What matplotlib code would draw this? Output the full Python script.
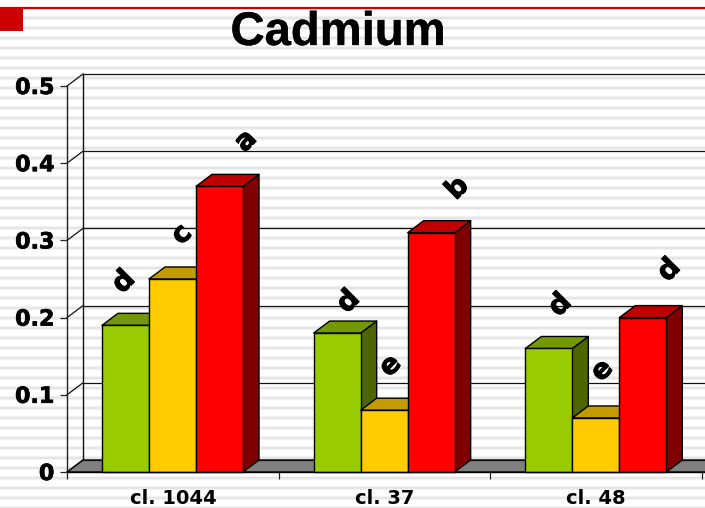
import matplotlib
matplotlib.use('Agg')
import matplotlib.pyplot as plt
from matplotlib.patches import Polygon, Rectangle
import matplotlib.patheffects as pe
import numpy as np

# Data
categories = ['cl. 1044', 'cl. 37', 'cl. 48']
green = [0.19, 0.18, 0.16]
yellow = [0.25, 0.08, 0.07]
red = [0.37, 0.31, 0.20]
green_letters = ['d', 'd', 'd']
yellow_letters = ['c', 'e', 'e']
red_letters = ['a', 'b', 'd']
y_ticks = [0, 0.1, 0.2, 0.3, 0.4, 0.5]
y_tick_labels = ['0', '0.1', '0.2', '0.3', '0.4', '0.5']

W, H = 705, 508
# Front plane of the 3D box, in pixels
LEFT, RIGHT, BOTTOM, TOP = 67, 702, 472, 86
DX_PX, DY_PX = 16, 12
# Letters were hand placed on the slide, so nudge each one (pixels, series then group)
LETTER_NUDGE = [
    [(-10, 5), (3, -7), (3, 5)],
    [(1, 6), (-2, 6), (-2, 9)],
    [(18, 7), (18, 6), (18, 9)],
]

fig = plt.figure(figsize=(W / 100, H / 100), dpi=100, facecolor='white')

# Striped slide background
bg = fig.add_axes([0, 0, 1, 1], zorder=0)
bg.set_xlim(0, W)
bg.set_ylim(H, 0)
bg.axis('off')
for y in np.arange(8, H + 5, 10):
    bg.axhline(y, color='#f2f2f2', lw=2.8)
    bg.axhline(y, color='#e4e4e4', lw=1.2)
bg.add_patch(Rectangle((0, 0), W, 7, color='white', zorder=2))
bg.axhline(7.5, color='#cc0000', lw=1.6, zorder=3)
bg.add_patch(Rectangle((0, 8), 23, 23, color='#cc0000', lw=0, zorder=3))

ax = fig.add_axes([LEFT / W, 1 - BOTTOM / H, (RIGHT - LEFT) / W, (BOTTOM - TOP) / H], zorder=1)
ax.patch.set_alpha(0)
ax.set_xlim(0, 3)
ax.set_ylim(0, 0.5)
for s in ax.spines.values():
    s.set_visible(False)

dx = DX_PX * 3 / (RIGHT - LEFT)
dy = DY_PX * 0.5 / (BOTTOM - TOP)
bar_w = 47 * 3 / (RIGHT - LEFT)
xmax = 3 + dx + 0.2
heavy = [pe.withStroke(linewidth=0.7, foreground='black')]


def poly(pts, color, z, ec='black', lw=1.0):
    ax.add_patch(Polygon(pts, closed=True, facecolor=color, edgecolor=ec, lw=lw,
                         zorder=z, clip_on=False, joinstyle='round'))


# floor and walls
poly([(0, 0), (dx, dy), (xmax, dy), (xmax, 0)], '#808080', 1, lw=1.0)
for v in y_ticks:
    ax.plot([dx, xmax], [v + dy, v + dy], color='#111111', lw=0.9, zorder=1.5, clip_on=False)
    ax.plot([0, dx], [v, v + dy], color='#111111', lw=0.9, zorder=1.5, clip_on=False)
ax.plot([dx, dx], [dy, 0.5 + dy], color='#111111', lw=1.0, zorder=1.5, clip_on=False)
ax.plot([0, 0], [0, 0.5], color='#222222', lw=1.0, zorder=1.5, clip_on=False)
ax.plot([0, xmax], [0, 0], color='black', lw=1.0, zorder=6, clip_on=False)


def bar3d(x, v, front, top, side, z):
    poly([(x + bar_w, 0), (x + bar_w + dx, dy), (x + bar_w + dx, v + dy), (x + bar_w, v)], side, z)
    poly([(x, v), (x + dx, v + dy), (x + bar_w + dx, v + dy), (x + bar_w, v)], top, z)
    poly([(x, 0), (x, v), (x + bar_w, v), (x + bar_w, 0)], front, z + 0.1)


styles = [
    (green, green_letters, '#99cc00', '#739900', '#4d6600'),
    (yellow, yellow_letters, '#ffcc00', '#c29b00', '#806600'),
    (red, red_letters, '#ff0000', '#bf0000', '#800000'),
]
start = (102 - LEFT) * 3 / (RIGHT - LEFT)
for i, cat in enumerate(categories):
    for j, (vals, letters, front, top, side) in enumerate(styles):
        x = i + start + j * bar_w
        bar3d(x, vals[i], front, top, side, 2 + j)
        nx, ny = LETTER_NUDGE[j][i]
        ax.annotate(letters[i], (x + bar_w / 2 + dx * 0.5, vals[i] + dy + 0.0345),
                    xytext=(nx * 0.72, ny * 0.72), textcoords='offset points', rotation=45,
                    ha='center', va='center', fontsize=20, fontweight='bold',
                    family='DejaVu Sans', color='black', zorder=8, annotation_clip=False,
                    path_effects=heavy)

ax.set_xticks([0, 1, 2, 3])
ax.set_xticklabels([])
ax.set_xticks([0.5, 1.5, 2.5], labels=categories, minor=True)
ax.tick_params(axis='x', which='major', length=5, width=0.9, color='#222222')
ax.tick_params(axis='x', which='minor', length=0, pad=12)
for lab in ax.get_xticklabels(minor=True):
    lab.set_fontfamily('DejaVu Sans')
    lab.set_fontweight('bold')
    lab.set_fontsize(14)
ax.set_yticks(y_ticks, labels=y_tick_labels)
ax.tick_params(axis='y', length=5, width=0.9, pad=4, color='#222222')
for lab in ax.get_yticklabels():
    lab.set_fontfamily('DejaVu Sans')
    lab.set_fontweight('bold')
    lab.set_fontsize(16)
    lab.set_path_effects([pe.withStroke(linewidth=0.5, foreground='black')])

fig.text(338 / W, 1 - 33 / H, 'Cadmium', ha='center', va='center', fontsize=34,
         fontweight='bold', family='Liberation Sans', color='black',
         path_effects=[pe.withStroke(linewidth=0.25, foreground='black')])

fig.savefig('out.png', dpi=100)
